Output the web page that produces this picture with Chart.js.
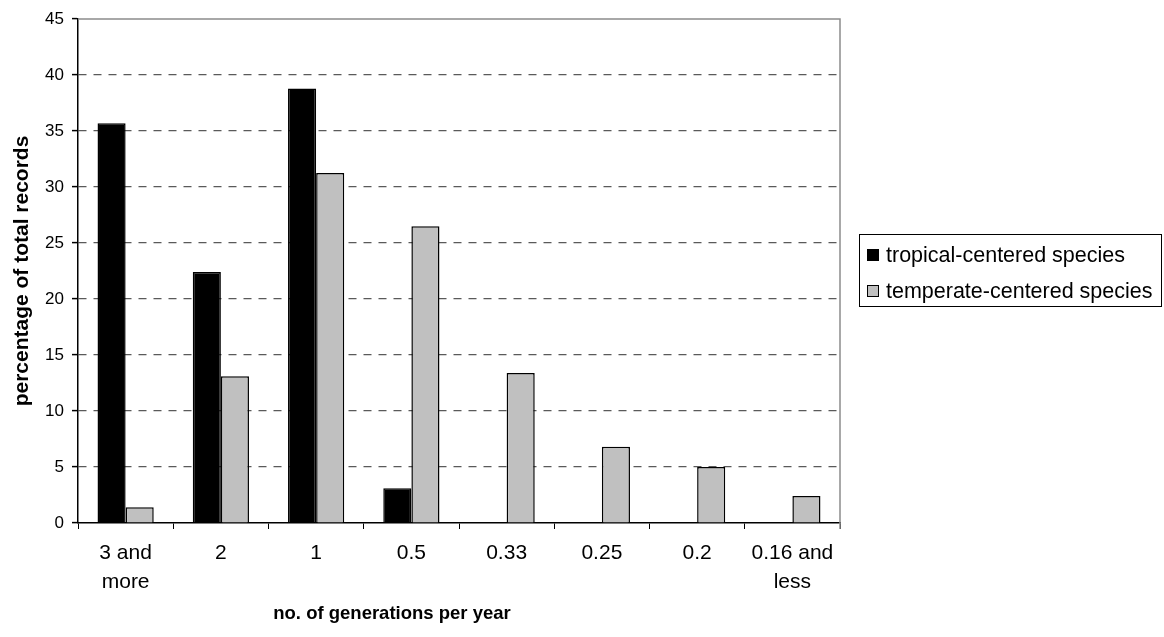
<!DOCTYPE html>
<html>
<head>
<meta charset="utf-8">
<script src="https://cdn.jsdelivr.net/npm/chart.js@4/dist/chart.umd.min.js"></script>
<style>
  html, body { margin: 0; padding: 0; background: #fff; }
  #wrap { width: 1164px; height: 637px; }
</style>
</head>
<body>
<div id="wrap"><canvas id="c" width="1164" height="637"></canvas></div>
<script>
// Generations per year (category labels, multi-line where wrapped)
const categories = [["3 and", "more"], "2", "1", "0.5", "0.33", "0.25", "0.2", ["0.16 and", "less"]];
// Percentage of total records per group
const tropical = [35.7, 22.4, 38.8, 3.1, 0, 0, 0, 0];
const temperate = [1.4, 13.1, 31.25, 26.5, 13.4, 6.8, 5.0, 2.4];
// Value axis ticks
const yTicks = [0, 5, 10, 15, 20, 25, 30, 35, 40, 45];

const seriesNames = ["tropical-centered species", "temperate-centered species"];
const yTitle = "percentage of total records";
const xTitle = "no. of generations per year";

const FONT = "'Liberation Sans', Arial, Helvetica, sans-serif";

// Gray frame on the top and right of the plot area
const framePlugin = {
  id: 'frame',
  afterDatasetsDraw(chart) {
    const {ctx, chartArea: a} = chart;
    ctx.save();
    ctx.strokeStyle = '#8c8c8c';
    ctx.lineWidth = 1.5;
    ctx.beginPath();
    ctx.moveTo(a.left, a.top);
    ctx.lineTo(a.right, a.top);
    ctx.lineTo(a.right, a.bottom + 6);
    ctx.stroke();
    ctx.restore();
  }
};

// Horizontal axis title and boxed legend
const labelsPlugin = {
  id: 'labels',
  afterDraw(chart) {
    const {ctx} = chart;
    ctx.save();
    ctx.fillStyle = '#000';
    ctx.font = `bold 18.5px ${FONT}`;
    ctx.textAlign = 'center';
    ctx.textBaseline = 'alphabetic';
    ctx.fillText(xTitle, 392, 619);

    // legend box
    const bx = 859.5, by = 234.5, bw = 302, bh = 72;
    ctx.strokeStyle = '#000';
    ctx.lineWidth = 1;
    ctx.strokeRect(bx, by, bw, bh);
    ctx.font = `21.5px ${FONT}`;
    ctx.textAlign = 'left';
    ctx.textBaseline = 'middle';
    chart.data.datasets.forEach((ds, i) => {
      const cy = 255 + i * 36;
      ctx.fillStyle = ds.backgroundColor;
      ctx.fillRect(867, cy - 6, 12, 12);
      ctx.strokeStyle = '#000';
      ctx.lineWidth = 1;
      ctx.strokeRect(867.5, cy - 5.5, 11, 11);
      ctx.fillStyle = '#000';
      ctx.fillText(ds.label, 886, cy + 1);
    });
    ctx.restore();
  }
};

new Chart(document.getElementById('c'), {
  type: 'bar',
  data: {
    labels: categories,
    datasets: [
      {
        label: seriesNames[0],
        data: tropical,
        backgroundColor: '#000000',
        borderColor: '#000000',
        borderWidth: 1.5
      },
      {
        label: seriesNames[1],
        data: temperate,
        backgroundColor: '#c0c0c0',
        borderColor: '#000000',
        borderWidth: 1.5
      }
    ]
  },
  options: {
    responsive: false,
    animation: false,
    events: [],
    layout: { padding: { top: 19, right: 324, bottom: 0, left: 0 } },
    datasets: { bar: { categoryPercentage: 0.59, barPercentage: 1.0 } },
    plugins: {
      legend: { display: false },
      tooltip: { enabled: false }
    },
    scales: {
      x: {
        offset: true,
        grid: {
          display: true,
          offset: true,
          drawOnChartArea: false,
          drawTicks: true,
          tickLength: 6,
          tickColor: '#000',
          color: '#000'
        },
        border: { display: true, color: '#000', width: 1.5 },
        ticks: {
          color: '#000',
          padding: 10,
          maxRotation: 0,
          autoSkip: false,
          font: { family: FONT, size: 21, lineHeight: 1.38 }
        },
        afterFit(scale) { scale.height = 114; }
      },
      y: {
        min: 0,
        max: 45,
        afterBuildTicks(scale) { scale.ticks = yTicks.map(v => ({ value: v })); },
        grid: {
          drawTicks: true,
          tickLength: 6,
          tickColor: '#000',
          tickWidth: 1.5,
          lineWidth: 1.2,
          color: (c) => (c.tick && (c.tick.value === 0 || c.tick.value === 45)) ? 'rgba(0,0,0,0)' : '#5a5a5a'
        },
        border: { display: true, color: '#000', width: 1.5, dash: [8, 7] },
        ticks: {
          color: '#000',
          padding: 8,
          font: { family: FONT, size: 17 }
        },
        title: {
          display: true,
          text: yTitle,
          color: '#000',
          padding: { top: 10, bottom: 0 },
          font: { family: FONT, size: 21, weight: 'bold', lineHeight: 1.2 }
        },
        afterFit(scale) { scale.width = 78; }
      }
    }
  },
  plugins: [framePlugin, labelsPlugin]
});
</script>
</body>
</html>
